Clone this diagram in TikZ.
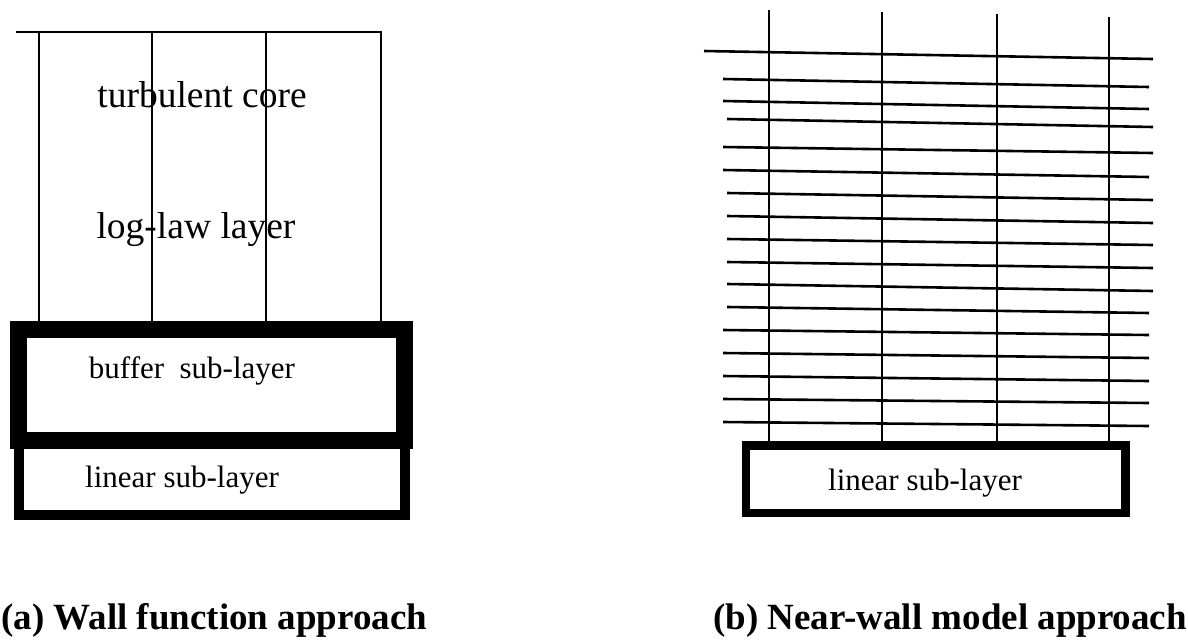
\documentclass[tikz,border=0pt]{standalone}
\usepackage{fontspec}
\setmainfont{Liberation Serif}
\begin{document}
\begin{tikzpicture}[x=1pt,y=-1pt,
  thin line/.style={line width=2.6pt, line cap=butt},
  bigtext/.style={inner sep=0pt, anchor=base, font=\fontsize{37.5}{40}\selectfont},
  subtext/.style={inner sep=0pt, anchor=base, font=\fontsize{31}{33}\selectfont},
  captext/.style={inner sep=0pt, anchor=base west, font=\fontsize{37}{40}\selectfont\bfseries}]
\useasboundingbox (0,0) rectangle (1188,643);
% ---------- (a) wall function ----------
\draw[thin line] (16,32) -- (382,32);
\foreach \x in {39,152,266,381} \draw[thin line] (\x,32) -- (\x,321);
\draw[line width=10pt] (18.5,440) rectangle (405,515);
\draw[line width=17pt] (18.5,329) rectangle (404,440);
\node[bigtext] (core) at (202,107) {turbulent core};
\node[bigtext] (loglaw) at (196,238) {log-law layer};
\node[subtext] (buffer) at (192,378) {buffer\ \ sub-layer};
\node[subtext] (linA) at (182,487) {linear sub-layer};
% ---------- (b) near-wall model ----------
\draw[thin line] (769,10) -- (769,442);
\draw[thin line] (882,12) -- (882,442);
\draw[thin line] (997,14) -- (997,442);
\draw[thin line] (1109,17) -- (1109,442);
\foreach \xa/\ya/\xb/\yb in {704/51/1153/59, 723/79/1149/87, 723/101/1149/109,
  727/119/1153/127, 723/147/1153/153, 723/170/1149/177, 727/193/1153/200,
  727/216/1153/223, 727/239/1153/245, 727/262/1153/268, 727/284/1153/291,
  727/307/1149/313, 723/330/1149/335, 723/353/1149/358, 723/376/1149/381,
  723/399/1149/403, 723/422/1149/426}
  \draw[thin line] (\xa,\ya) -- (\xb,\yb);
\draw[line width=8.5pt, fill=white] (746,445.5) rectangle (1125.5,513);
\node[subtext] (linB) at (925,490) {linear sub-layer};
% ---------- captions ----------
\node[captext] (capA) at (1,629) {(a) Wall function approach};
\node[captext] (capB) at (713,629) {(b) Near-wall model approach};
\end{tikzpicture}
\end{document}
